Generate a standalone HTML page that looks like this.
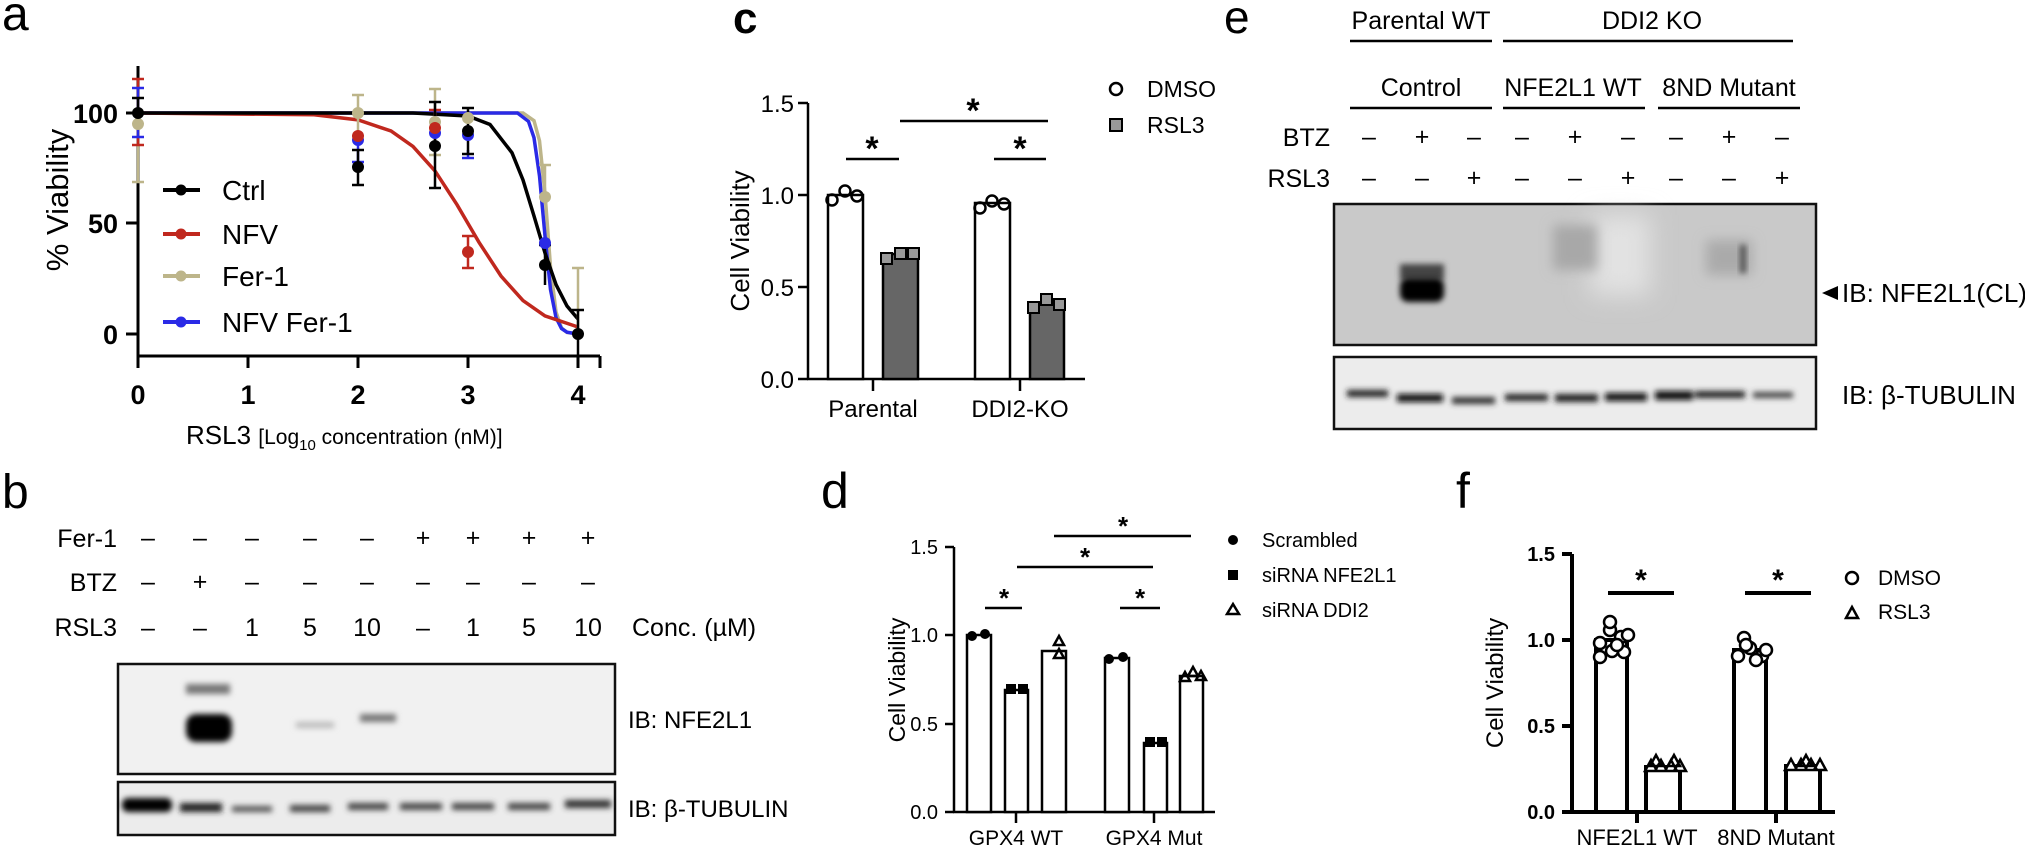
<!DOCTYPE html>
<html><head><meta charset="utf-8"><style>
html,body{margin:0;padding:0;background:#fff;}
svg{display:block;font-family:"Liberation Sans",Arial,sans-serif;}
.n{font-family:"Liberation Sans Narrow","Liberation Sans",sans-serif;}
</style></head><body>
<svg width="2025" height="849" viewBox="0 0 2025 849" xmlns="http://www.w3.org/2000/svg">
<defs>
<filter id="b3" x="-50%" y="-100%" width="200%" height="300%"><feGaussianBlur stdDeviation="3"/></filter>
<filter id="b6" x="-50%" y="-100%" width="200%" height="300%"><feGaussianBlur stdDeviation="6"/></filter>
<filter id="b12" x="-50%" y="-50%" width="200%" height="200%"><feGaussianBlur stdDeviation="12"/></filter>
</defs>

<!-- ===== Panel a ===== -->
<text x="2" y="30" font-size="48">a</text>
<g stroke="#000" stroke-width="3" fill="none">
<line x1="138" y1="66" x2="138" y2="357"/>
<line x1="126" y1="113" x2="138" y2="113"/><line x1="126" y1="223" x2="138" y2="223"/><line x1="126" y1="334" x2="138" y2="334"/>
<line x1="137" y1="356" x2="600" y2="356"/>
<line x1="138" y1="356" x2="138" y2="368"/><line x1="248" y1="356" x2="248" y2="368"/><line x1="358" y1="356" x2="358" y2="368"/><line x1="468" y1="356" x2="468" y2="368"/><line x1="578" y1="356" x2="578" y2="368"/><line x1="600" y1="356" x2="600" y2="368"/>
</g>
<g font-size="27" font-weight="bold" text-anchor="end">
<text x="118" y="123">100</text><text x="118" y="233">50</text><text x="118" y="344">0</text>
</g>
<g font-size="27" font-weight="bold" text-anchor="middle">
<text x="138" y="404">0</text><text x="248" y="404">1</text><text x="358" y="404">2</text><text x="468" y="404">3</text><text x="578" y="404">4</text>
</g>
<text transform="translate(68,200) rotate(-90)" font-size="31" text-anchor="middle">% Viability</text>
<text x="186" y="444" font-size="26">RSL3 <tspan font-size="21">[Log</tspan><tspan font-size="15" dy="6">10</tspan><tspan font-size="21" dy="-6"> concentration (nM)]</tspan></text>

<g fill="none" stroke-width="3.5">
<path stroke="#bdb58a" d="M138,113 L523,113 L534,120.7 L539.5,140.8 L545,193.7 L550.5,266.8 L556,312 L561.5,328 L567,332.5 L578,334"/>
<path stroke="#2a2ae6" d="M138,113 L517.5,113 L528.5,121.4 L534,137.7 L539.5,176 L545,236 L550.5,289.6 L556,317.6 L561.5,328.5 L567,332.2 L578,334"/>
<path stroke="#c0281e" d="M138,113 L314,114.8 L358,119.9 L391,131 L413,146.4 L435,170.9 L457,204.7 L468,223.5 L479,242.3 L501,276 L523,300.6 L545,315.9 L578,327"/>
<path stroke="#000" d="M138,113 L413,113 L468,116 L490,124.5 L512,152.8 L523,180 L534,216 L545,253 L556,284.5 L567,306 L578,319"/>
</g>
<g stroke-width="2.5">
<g stroke="#bdb58a"><line x1="138" y1="100" x2="138" y2="182"/><line x1="132" y1="182" x2="144" y2="182"/>
<line x1="358" y1="95" x2="358" y2="131"/><line x1="352" y1="95" x2="364" y2="95"/>
<line x1="435" y1="89" x2="435" y2="155"/><line x1="429" y1="89" x2="441" y2="89"/><line x1="429" y1="155" x2="441" y2="155"/>
<line x1="545" y1="165" x2="545" y2="200"/><line x1="539" y1="165" x2="551" y2="165"/>
<line x1="578" y1="268" x2="578" y2="334"/><line x1="572" y1="268" x2="584" y2="268"/></g>
<g stroke="#c0281e"><line x1="138" y1="79" x2="138" y2="145"/><line x1="132" y1="79" x2="144" y2="79"/><line x1="132" y1="145" x2="144" y2="145"/>
<line x1="468" y1="236" x2="468" y2="268"/><line x1="462" y1="236" x2="474" y2="236"/><line x1="462" y1="268" x2="474" y2="268"/>
<line x1="435" y1="110" x2="435" y2="140"/><line x1="429" y1="110" x2="441" y2="110"/></g>
<g stroke="#2a2ae6"><line x1="138" y1="88" x2="138" y2="137"/><line x1="132" y1="88" x2="144" y2="88"/><line x1="132" y1="137" x2="144" y2="137"/>
<line x1="468" y1="150" x2="468" y2="158"/><line x1="462" y1="158" x2="474" y2="158"/>
<line x1="358" y1="140" x2="358" y2="162"/><line x1="352" y1="162" x2="364" y2="162"/></g>
<g stroke="#000"><line x1="138" y1="98" x2="138" y2="128"/><line x1="132" y1="98" x2="144" y2="98"/>
<line x1="358" y1="150" x2="358" y2="185"/><line x1="352" y1="150" x2="364" y2="150"/><line x1="352" y1="185" x2="364" y2="185"/>
<line x1="435" y1="102" x2="435" y2="188"/><line x1="429" y1="102" x2="441" y2="102"/><line x1="429" y1="188" x2="441" y2="188"/>
<line x1="468" y1="108" x2="468" y2="154"/><line x1="462" y1="108" x2="474" y2="108"/><line x1="462" y1="154" x2="474" y2="154"/>
<line x1="545" y1="245" x2="545" y2="285"/><line x1="539" y1="245" x2="551" y2="245"/>
<line x1="578" y1="310" x2="578" y2="356"/><line x1="572" y1="310" x2="584" y2="310"/></g>
</g>
<g>
<circle cx="138" cy="124" r="6" fill="#bdb58a"/><circle cx="358" cy="113" r="6" fill="#bdb58a"/><circle cx="435" cy="122" r="6" fill="#bdb58a"/><circle cx="468" cy="118" r="6" fill="#bdb58a"/><circle cx="545" cy="197" r="6" fill="#bdb58a"/>
<circle cx="358" cy="140" r="6" fill="#2a2ae6"/><circle cx="435" cy="133" r="6" fill="#2a2ae6"/><circle cx="468" cy="135" r="6" fill="#2a2ae6"/><circle cx="545" cy="243" r="6" fill="#2a2ae6"/>
<circle cx="358" cy="136" r="6" fill="#c0281e"/><circle cx="435" cy="128" r="6" fill="#c0281e"/><circle cx="468" cy="252" r="6" fill="#c0281e"/>
<circle cx="138" cy="113" r="6" fill="#000"/><circle cx="358" cy="167" r="6" fill="#000"/><circle cx="435" cy="146" r="6" fill="#000"/><circle cx="468" cy="131" r="6" fill="#000"/><circle cx="545" cy="265" r="6" fill="#000"/><circle cx="578" cy="334" r="6" fill="#000"/>
</g>
<g stroke-width="4">
<line x1="163" y1="190" x2="200" y2="190" stroke="#000"/><circle cx="181" cy="190" r="5.5" fill="#000"/>
<line x1="163" y1="234" x2="200" y2="234" stroke="#c0281e"/><circle cx="181" cy="234" r="5.5" fill="#c0281e"/>
<line x1="163" y1="276" x2="200" y2="276" stroke="#bdb58a"/><circle cx="181" cy="276" r="5.5" fill="#bdb58a"/>
<line x1="163" y1="322" x2="200" y2="322" stroke="#2a2ae6"/><circle cx="181" cy="322" r="5.5" fill="#2a2ae6"/>
</g>
<g font-size="28"><text x="222" y="200">Ctrl</text><text x="222" y="244">NFV</text><text x="222" y="286">Fer-1</text><text x="222" y="332">NFV Fer-1</text></g>

<!-- ===== Panel b ===== -->
<text x="2" y="508" font-size="48">b</text>
<g font-size="25" class="n">
<text x="117" y="547" text-anchor="end">Fer-1</text>
<text x="117" y="591" text-anchor="end">BTZ</text>
<text x="117" y="636" text-anchor="end">RSL3</text>
<text x="632" y="636" font-family="Liberation Sans">Conc. (µM)</text>
</g>
<g font-size="25" text-anchor="middle">
<text x="148" y="546">–</text><text x="200" y="546">–</text><text x="252" y="546">–</text><text x="310" y="546">–</text><text x="367" y="546">–</text><text x="423" y="546">+</text><text x="473" y="546">+</text><text x="529" y="546">+</text><text x="588" y="546">+</text>
<text x="148" y="590">–</text><text x="200" y="590">+</text><text x="252" y="590">–</text><text x="310" y="590">–</text><text x="367" y="590">–</text><text x="423" y="590">–</text><text x="473" y="590">–</text><text x="529" y="590">–</text><text x="588" y="590">–</text>
<text x="148" y="636">–</text><text x="200" y="636">–</text><text x="252" y="636">1</text><text x="310" y="636">5</text><text x="367" y="636">10</text><text x="423" y="636">–</text><text x="473" y="636">1</text><text x="529" y="636">5</text><text x="588" y="636">10</text>
</g>
<rect x="118" y="664" width="497" height="110" fill="#f1f1f1" stroke="#111" stroke-width="2.5"/>
<g>
<rect x="186" y="714" width="46" height="28" rx="10" fill="#000" filter="url(#b3)"/>
<rect x="186" y="684" width="44" height="10" fill="#777" filter="url(#b3)"/>
<rect x="296" y="722" width="38" height="6" fill="#bbb" filter="url(#b3)"/>
<rect x="360" y="714" width="36" height="8" fill="#777" filter="url(#b3)"/>
</g>
<rect x="118" y="782" width="497" height="53" fill="#ececec" stroke="#111" stroke-width="2.5"/>
<g fill="#222" filter="url(#b3)">
<rect x="122" y="798" width="50" height="14" rx="6" fill="#000"/>
<rect x="180" y="803" width="42" height="9"/>
<rect x="232" y="806" width="40" height="6" fill="#555"/>
<rect x="290" y="805" width="40" height="7" fill="#444"/>
<rect x="348" y="803" width="40" height="7" fill="#444"/>
<rect x="400" y="803" width="42" height="7" fill="#444"/>
<rect x="452" y="803" width="42" height="7" fill="#444"/>
<rect x="508" y="803" width="42" height="7" fill="#444"/>
<rect x="565" y="800" width="46" height="8" fill="#333"/>
</g>
<g font-size="24"><text x="628" y="728">IB: NFE2L1</text><text x="628" y="817">IB: β-TUBULIN</text></g>

<!-- ===== Panel c ===== -->
<text x="733" y="33" font-size="44" font-weight="bold">c</text>
<g stroke="#000" stroke-width="2.5" fill="none">
<line x1="808" y1="103" x2="808" y2="380"/>
<line x1="798" y1="103" x2="808" y2="103"/><line x1="798" y1="195" x2="808" y2="195"/><line x1="798" y1="287" x2="808" y2="287"/><line x1="798" y1="379" x2="808" y2="379"/>
<line x1="807" y1="379" x2="1085" y2="379"/>
<line x1="873" y1="379" x2="873" y2="391"/><line x1="1020" y1="379" x2="1020" y2="391"/>
<rect x="828" y="195" width="35" height="184" fill="#fff"/>
<rect x="883" y="254" width="35" height="125" fill="#666"/>
<rect x="975" y="203" width="35" height="176" fill="#fff"/>
<rect x="1030" y="304" width="34" height="75" fill="#666"/>
<line x1="846" y1="159" x2="899" y2="159"/><line x1="900" y1="121" x2="1048" y2="121"/><line x1="994" y1="159" x2="1046" y2="159"/>
<circle cx="832" cy="200" r="5.5"/><circle cx="845" cy="191" r="5.5"/><circle cx="857" cy="196" r="5.5"/>
<circle cx="980" cy="208" r="5.5"/><circle cx="992" cy="201" r="5.5"/><circle cx="1004" cy="204" r="5.5"/>
</g>
<g fill="#999" stroke="#000" stroke-width="2">
<rect x="881" y="253" width="11" height="11"/><rect x="895" y="248" width="11" height="11"/><rect x="908" y="248" width="11" height="11"/>
<rect x="1028" y="302" width="11" height="11"/><rect x="1041" y="294" width="11" height="11"/><rect x="1054" y="299" width="11" height="11"/>
<circle cx="1116" cy="89" r="6" fill="#fff" stroke-width="2.5"/><rect x="1110" y="119" width="12" height="12"/>
</g>
<g font-size="24" text-anchor="end"><text x="794" y="112">1.5</text><text x="794" y="204">1.0</text><text x="794" y="296">0.5</text><text x="794" y="388">0.0</text></g>
<g font-size="24" text-anchor="middle"><text x="873" y="417">Parental</text><text x="1020" y="417">DDI2-KO</text></g>
<g font-size="34" font-weight="bold" text-anchor="middle"><text x="872" y="160">*</text><text x="973" y="122">*</text><text x="1020" y="160">*</text></g>
<text transform="translate(749,241) rotate(-90)" font-size="26" text-anchor="middle">Cell Viability</text>
<g font-size="23"><text x="1147" y="97">DMSO</text><text x="1147" y="133">RSL3</text></g>

<!-- ===== Panel d ===== -->
<text x="821" y="508" font-size="50">d</text>
<g stroke="#000" stroke-width="2.5" fill="none">
<line x1="954" y1="547" x2="954" y2="813"/>
<line x1="945" y1="547" x2="954" y2="547"/><line x1="945" y1="635" x2="954" y2="635"/><line x1="945" y1="724" x2="954" y2="724"/><line x1="945" y1="812" x2="954" y2="812"/>
<line x1="953" y1="812" x2="1215" y2="812"/>
<line x1="1016" y1="812" x2="1016" y2="823"/><line x1="1154" y1="812" x2="1154" y2="823"/>
<rect x="967" y="635" width="24" height="177" fill="#fff"/>
<rect x="1005" y="690" width="23" height="122" fill="#fff"/>
<rect x="1042" y="651" width="24" height="161" fill="#fff"/>
<rect x="1105" y="658" width="24" height="154" fill="#fff"/>
<rect x="1144" y="743" width="23" height="69" fill="#fff"/>
<rect x="1180" y="676" width="23" height="136" fill="#fff"/>
<line x1="985" y1="608" x2="1022" y2="608"/><line x1="1017" y1="567" x2="1153" y2="567"/><line x1="1054" y1="536" x2="1191" y2="536"/><line x1="1120" y1="608" x2="1160" y2="608"/>
<path d="M1054,645 l5,-9 l5,9 z M1054,658 l5,-9 l5,9 z"/>
<path d="M1180,681 l5,-9 l5,9 z M1188,676 l5,-9 l5,9 z M1196,680 l5,-9 l5,9 z"/>
<path d="M1227,614 l6,-10 l6,10 z"/>
</g>
<g fill="#000">
<circle cx="972" cy="636" r="5"/><circle cx="985" cy="634" r="5"/>
<circle cx="1109" cy="659" r="5"/><circle cx="1123" cy="657" r="5"/>
<rect x="1006" y="684" width="10" height="10"/><rect x="1018" y="684" width="10" height="10"/>
<rect x="1145" y="737" width="10" height="10"/><rect x="1157" y="737" width="10" height="10"/>
<circle cx="1233" cy="540" r="5"/><rect x="1228" y="570" width="10" height="10"/>
</g>
<g font-size="20" text-anchor="end"><text x="938" y="554">1.5</text><text x="938" y="642">1.0</text><text x="938" y="731">0.5</text><text x="938" y="819">0.0</text></g>
<g font-size="21" text-anchor="middle"><text x="1016" y="845">GPX4 WT</text><text x="1154" y="845">GPX4 Mut</text></g>
<g font-size="26" font-weight="bold" text-anchor="middle"><text x="1004" y="607">*</text><text x="1085" y="566">*</text><text x="1123" y="535">*</text><text x="1140" y="607">*</text></g>
<text transform="translate(905,680) rotate(-90)" font-size="23" text-anchor="middle">Cell Viability</text>
<g font-size="20"><text x="1262" y="547">Scrambled</text><text x="1262" y="582">siRNA NFE2L1</text><text x="1262" y="617">siRNA DDI2</text></g>

<!-- ===== Panel e ===== -->
<text x="1224" y="33" font-size="46">e</text>
<g class="n" font-size="25" text-anchor="middle">
<text x="1421" y="29">Parental WT</text><text x="1652" y="29">DDI2 KO</text>
<text x="1421" y="96">Control</text><text x="1573" y="96">NFE2L1 WT</text><text x="1729" y="96">8ND Mutant</text>
</g>
<g stroke="#000" stroke-width="2.5">
<line x1="1350" y1="41" x2="1492" y2="41"/><line x1="1503" y1="41" x2="1793" y2="41"/>
<line x1="1350" y1="108" x2="1492" y2="108"/><line x1="1503" y1="108" x2="1645" y2="108"/><line x1="1658" y1="108" x2="1800" y2="108"/>
</g>
<g class="n" font-size="25" text-anchor="end"><text x="1330" y="146">BTZ</text><text x="1330" y="187">RSL3</text></g>
<g font-size="25" text-anchor="middle">
<text x="1369" y="145">–</text><text x="1422" y="145">+</text><text x="1474" y="145">–</text><text x="1522" y="145">–</text><text x="1575" y="145">+</text><text x="1628" y="145">–</text><text x="1676" y="145">–</text><text x="1729" y="145">+</text><text x="1782" y="145">–</text>
<text x="1369" y="186">–</text><text x="1422" y="186">–</text><text x="1474" y="186">+</text><text x="1522" y="186">–</text><text x="1575" y="186">–</text><text x="1628" y="186">+</text><text x="1676" y="186">–</text><text x="1729" y="186">–</text><text x="1782" y="186">+</text>
</g>
<rect x="1334" y="204" width="482" height="141" fill="#c9c9c9" stroke="#111" stroke-width="2.5"/>
<g>
<rect x="1590" y="215" width="60" height="80" fill="#e2e2e2" filter="url(#b12)"/>
<rect x="1400" y="264" width="44" height="16" fill="#444" filter="url(#b3)"/>
<rect x="1400" y="278" width="44" height="24" rx="8" fill="#000" filter="url(#b3)"/>
<rect x="1553" y="225" width="44" height="45" fill="#a8a8a8" filter="url(#b6)"/>
<rect x="1706" y="240" width="46" height="35" fill="#aaa" filter="url(#b6)"/>
<rect x="1740" y="245" width="6" height="28" fill="#555" filter="url(#b3)"/>
</g>
<rect x="1334" y="357" width="482" height="72" fill="#ececec" stroke="#111" stroke-width="2.5"/>
<g filter="url(#b3)">
<rect x="1347" y="390" width="41" height="7" fill="#222"/>
<rect x="1397" y="394" width="46" height="8" fill="#111"/>
<rect x="1452" y="397" width="43" height="7" fill="#333"/>
<rect x="1505" y="394" width="43" height="7" fill="#222"/>
<rect x="1555" y="394" width="43" height="8" fill="#222"/>
<rect x="1605" y="393" width="42" height="8" fill="#111"/>
<rect x="1655" y="391" width="38" height="9" fill="#111"/>
<rect x="1695" y="391" width="50" height="7" fill="#222"/>
<rect x="1753" y="392" width="40" height="6" fill="#444"/>
</g>
<path d="M1822,293 L1838,286 L1838,300 Z" fill="#000"/>
<g class="n" font-size="26"><text x="1842" y="302">IB: NFE2L1(CL)</text><text x="1842" y="404">IB: β-TUBULIN</text></g>

<!-- ===== Panel f ===== -->
<text x="1456" y="508" font-size="50">f</text>
<g stroke="#000" stroke-width="4" fill="none">
<line x1="1572" y1="554" x2="1572" y2="814"/>
<line x1="1562" y1="554" x2="1572" y2="554"/><line x1="1562" y1="640" x2="1572" y2="640"/><line x1="1562" y1="726" x2="1572" y2="726"/><line x1="1562" y1="812" x2="1572" y2="812"/>
<line x1="1570" y1="812" x2="1835" y2="812"/>
<line x1="1637" y1="812" x2="1637" y2="823"/><line x1="1776" y1="812" x2="1776" y2="823"/>
<rect x="1596" y="640" width="31" height="172" fill="#fff"/>
<rect x="1646" y="767" width="34" height="45" fill="#fff"/>
<rect x="1734" y="650" width="32" height="162" fill="#fff"/>
<rect x="1786" y="766" width="34" height="46" fill="#fff"/>
<line x1="1608" y1="593" x2="1674" y2="593"/><line x1="1745" y1="593" x2="1811" y2="593"/>
</g>
<g stroke="#000" stroke-width="2.5" fill="#fff">
<circle cx="1600" cy="643" r="6"/><circle cx="1610" cy="630" r="6"/><circle cx="1621" cy="637" r="6"/><circle cx="1600" cy="657" r="6"/><circle cx="1612" cy="651" r="6"/><circle cx="1624" cy="652" r="6"/><circle cx="1610" cy="622" r="6"/><circle cx="1628" cy="635" r="6"/><circle cx="1617" cy="645" r="6"/>
<circle cx="1738" cy="656" r="6"/><circle cx="1750" cy="648" r="6"/><circle cx="1762" cy="656" r="6"/><circle cx="1744" cy="638" r="6"/><circle cx="1756" cy="660" r="6"/><circle cx="1746" cy="645" r="6"/><circle cx="1766" cy="650" r="6"/>
<path d="M1645,771 l6,-11 l6,11 z M1655,771 l6,-11 l6,11 z M1665,771 l6,-11 l6,11 z M1674,771 l6,-11 l6,11 z M1650,766 l6,-11 l6,11 z M1668,766 l6,-11 l6,11 z"/>
<path d="M1785,770 l6,-11 l6,11 z M1795,770 l6,-11 l6,11 z M1805,770 l6,-11 l6,11 z M1814,770 l6,-11 l6,11 z M1800,766 l6,-11 l6,11 z"/>
<circle cx="1852" cy="578" r="6"/><path d="M1846,618 l6,-11 l6,11 z"/>
</g>
<g font-size="20" font-weight="bold" text-anchor="end"><text x="1555" y="561">1.5</text><text x="1555" y="647">1.0</text><text x="1555" y="733">0.5</text><text x="1555" y="819">0.0</text></g>
<g font-size="22" text-anchor="middle"><text x="1637" y="845">NFE2L1 WT</text><text x="1776" y="845">8ND Mutant</text></g>
<g font-size="30" font-weight="bold" text-anchor="middle"><text x="1641" y="590">*</text><text x="1778" y="590">*</text></g>
<text transform="translate(1503,683) rotate(-90)" font-size="24" text-anchor="middle">Cell Viability</text>
<g font-size="21"><text x="1878" y="585">DMSO</text><text x="1878" y="619">RSL3</text></g>
</svg>
</body></html>
